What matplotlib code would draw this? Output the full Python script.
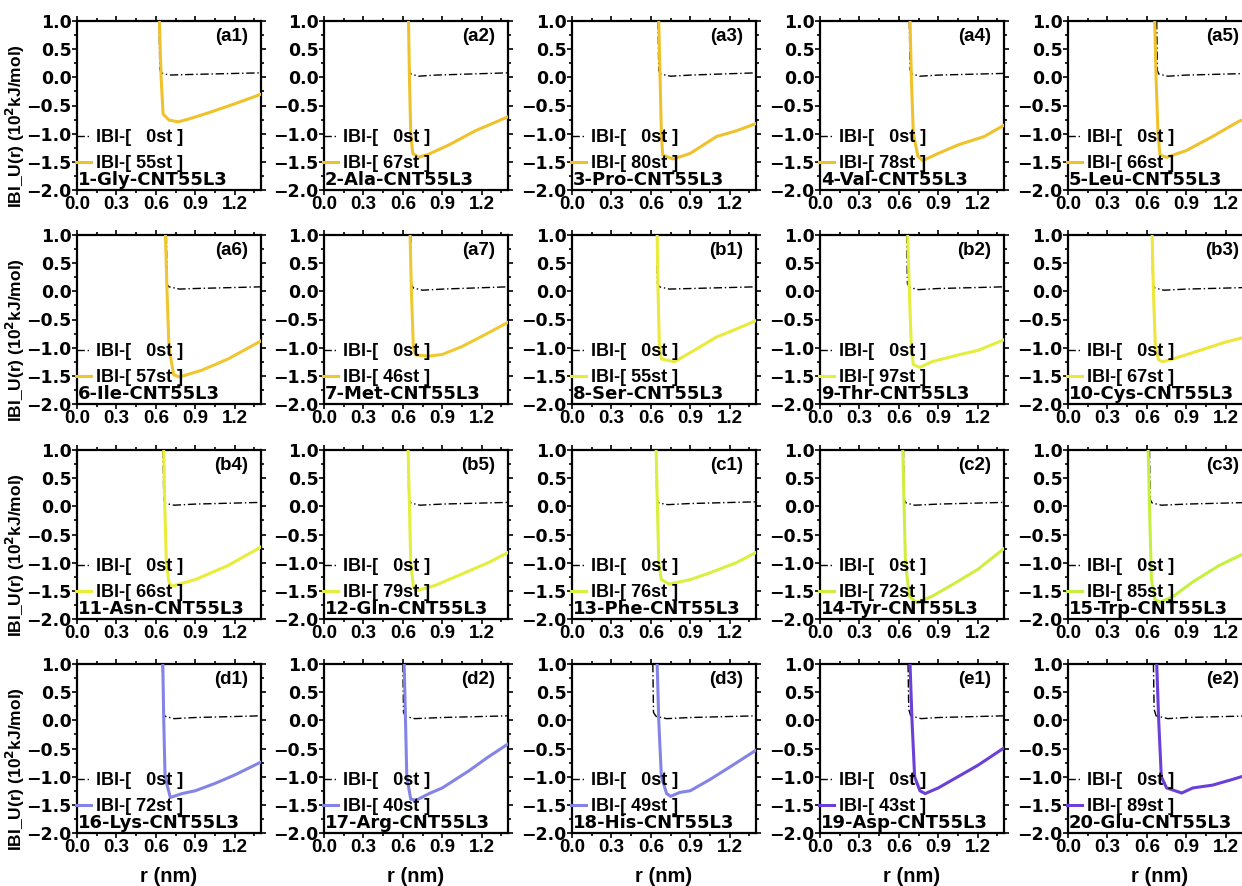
import matplotlib
matplotlib.use("Agg")
import matplotlib.pyplot as plt
from matplotlib.ticker import MultipleLocator

plt.rcParams["font.family"] = ["Liberation Sans", "DejaVu Sans"]
plt.rcParams["font.weight"] = "bold"

# ---- data, one entry per panel (row-major) ----
TAGS = ["(a1)", "(a2)", "(a3)", "(a4)", "(a5)",
        "(a6)", "(a7)", "(b1)", "(b2)", "(b3)",
        "(b4)", "(b5)", "(c1)", "(c2)", "(c3)",
        "(d1)", "(d2)", "(d3)", "(e1)", "(e2)"]
NAMES = ["1-Gly", "2-Ala", "3-Pro", "4-Val", "5-Leu",
         "6-Ile", "7-Met", "8-Ser", "9-Thr", "10-Cys",
         "11-Asn", "12-Gln", "13-Phe", "14-Tyr", "15-Trp",
         "16-Lys", "17-Arg", "18-His", "19-Asp", "20-Glu"]
STEPS = [55, 67, 80, 78, 66,
         57, 46, 55, 97, 67,
         66, 79, 76, 72, 85,
         72, 40, 49, 43, 89]
COLORS = ["#EFC22C", "#EFC22C", "#EFC22C", "#EFC22C", "#EFC22C",
          "#EFC530", "#EFC930", "#EAEA3A", "#E4EE3C", "#EEE63A",
          "#EAEC3A", "#E4EE3C", "#D9F040", "#D0EE40", "#C6F040",
          "#8484E6", "#8484E6", "#8484E6", "#6A40D8", "#6A40D8"]

# converged IBI potential (colored line)
CURVE_X = [
    [0.627, 0.64, 0.655, 0.70, 0.77, 0.85, 1.0, 1.2, 1.4],
    [0.643, 0.65, 0.66, 0.675, 0.72, 0.80, 0.95, 1.15, 1.4],
    [0.66, 0.67, 0.68, 0.69, 0.77, 0.90, 1.0, 1.1, 1.25, 1.4],
    [0.685, 0.695, 0.71, 0.745, 0.78, 0.90, 1.05, 1.25, 1.4],
    [0.66, 0.67, 0.685, 0.70, 0.75, 0.90, 1.1, 1.3, 1.4],
    [0.673, 0.685, 0.70, 0.735, 0.78, 0.95, 1.15, 1.4],
    [0.655, 0.665, 0.68, 0.70, 0.80, 0.90, 1.05, 1.2, 1.4],
    [0.648, 0.655, 0.665, 0.68, 0.78, 0.95, 1.1, 1.25, 1.4],
    [0.667, 0.68, 0.695, 0.71, 0.76, 0.85, 1.05, 1.2, 1.4],
    [0.64, 0.65, 0.665, 0.69, 0.72, 0.80, 1.0, 1.2, 1.4],
    [0.66, 0.668, 0.68, 0.70, 0.72, 0.90, 1.15, 1.4],
    [0.64, 0.65, 0.66, 0.68, 0.70, 0.85, 1.05, 1.25, 1.4],
    [0.64, 0.65, 0.66, 0.68, 0.74, 0.90, 1.05, 1.25, 1.4],
    [0.63, 0.64, 0.65, 0.68, 0.735, 0.85, 1.0, 1.2, 1.4],
    [0.61, 0.62, 0.635, 0.66, 0.70, 0.80, 0.95, 1.15, 1.32, 1.4],
    [0.653, 0.66, 0.67, 0.71, 0.80, 0.90, 1.05, 1.2, 1.4],
    [0.61, 0.62, 0.63, 0.66, 0.70, 0.80, 0.90, 1.1, 1.25, 1.4],
    [0.648, 0.66, 0.68, 0.72, 0.75, 0.82, 0.90, 1.05, 1.2, 1.4],
    [0.685, 0.70, 0.72, 0.76, 0.80, 0.90, 1.05, 1.2, 1.4],
    [0.675, 0.69, 0.71, 0.75, 0.865, 0.95, 1.1, 1.25, 1.32, 1.4],
]
CURVE_Y = [
    [1.0, 0.0, -0.65, -0.76, -0.79, -0.74, -0.63, -0.47, -0.30],
    [1.0, 0.0, -1.0, -1.35, -1.42, -1.36, -1.20, -0.95, -0.70],
    [1.0, 0.0, -1.0, -1.38, -1.45, -1.35, -1.20, -1.05, -0.95, -0.82],
    [1.0, 0.0, -1.0, -1.40, -1.48, -1.35, -1.20, -1.05, -0.85],
    [1.0, 0.0, -1.0, -1.38, -1.42, -1.30, -1.05, -0.78, -0.70],
    [1.0, 0.0, -1.0, -1.48, -1.52, -1.40, -1.20, -0.88],
    [1.0, 0.0, -1.0, -1.13, -1.15, -1.12, -0.98, -0.80, -0.55],
    [1.0, 0.0, -1.0, -1.20, -1.25, -1.02, -0.81, -0.67, -0.52],
    [1.0, 0.0, -1.0, -1.30, -1.35, -1.25, -1.13, -1.05, -0.86],
    [1.0, 0.0, -1.0, -1.22, -1.25, -1.20, -1.05, -0.90, -0.78],
    [1.0, 0.0, -1.0, -1.35, -1.42, -1.30, -1.05, -0.72],
    [1.0, 0.0, -1.0, -1.42, -1.50, -1.40, -1.20, -1.00, -0.82],
    [1.0, 0.0, -1.0, -1.30, -1.38, -1.30, -1.18, -1.00, -0.82],
    [1.0, 0.0, -1.0, -1.60, -1.71, -1.60, -1.40, -1.12, -0.75],
    [1.0, 0.0, -1.30, -1.65, -1.70, -1.60, -1.34, -1.05, -0.86, -0.78],
    [1.0, 0.0, -1.0, -1.37, -1.30, -1.25, -1.12, -0.97, -0.74],
    [1.0, 0.0, -1.0, -1.40, -1.42, -1.30, -1.20, -0.90, -0.65, -0.42],
    [1.0, 0.0, -1.0, -1.30, -1.35, -1.28, -1.25, -1.05, -0.83, -0.53],
    [1.0, 0.0, -1.0, -1.25, -1.30, -1.20, -1.00, -0.80, -0.49],
    [1.0, 0.0, -1.0, -1.20, -1.29, -1.20, -1.15, -1.05, -1.00, -0.97],
]

# initial (0st) potential, black dash-dot
REF_X = [
    [0.625, 0.63, 0.64, 0.70, 0.85, 1.4],
    [0.645, 0.65, 0.66, 0.72, 0.85, 1.4],
    [0.655, 0.66, 0.675, 0.75, 0.90, 1.4],
    [0.68, 0.685, 0.70, 0.76, 0.90, 1.4],
    [0.675, 0.68, 0.69, 0.76, 0.90, 1.4],
    [0.68, 0.685, 0.70, 0.78, 0.90, 1.4],
    [0.66, 0.665, 0.68, 0.75, 0.90, 1.4],
    [0.645, 0.65, 0.665, 0.74, 0.90, 1.4],
    [0.66, 0.665, 0.68, 0.75, 0.90, 1.4],
    [0.64, 0.645, 0.66, 0.73, 0.90, 1.4],
    [0.655, 0.66, 0.675, 0.74, 0.90, 1.4],
    [0.64, 0.645, 0.66, 0.73, 0.90, 1.4],
    [0.64, 0.645, 0.66, 0.73, 0.90, 1.4],
    [0.635, 0.64, 0.655, 0.72, 0.90, 1.4],
    [0.62, 0.625, 0.64, 0.71, 0.90, 1.4],
    [0.65, 0.655, 0.67, 0.74, 0.90, 1.4],
    [0.60, 0.605, 0.62, 0.69, 0.90, 1.4],
    [0.615, 0.62, 0.64, 0.72, 0.90, 1.4],
    [0.67, 0.675, 0.69, 0.77, 0.90, 1.4],
    [0.65, 0.655, 0.67, 0.76, 0.90, 1.4],
]
REF_Y = [
    [1.0, 0.15, 0.08, 0.04, 0.05, 0.08],
    [1.0, 0.12, 0.06, 0.02, 0.04, 0.08],
    [1.0, 0.12, 0.06, 0.02, 0.04, 0.08],
    [1.0, 0.14, 0.06, 0.02, 0.04, 0.07],
    [1.0, 0.12, 0.06, 0.02, 0.04, 0.07],
    [1.0, 0.12, 0.08, 0.04, 0.05, 0.08],
    [1.0, 0.12, 0.06, 0.02, 0.04, 0.08],
    [1.0, 0.14, 0.08, 0.04, 0.05, 0.08],
    [1.0, 0.14, 0.07, 0.03, 0.05, 0.08],
    [1.0, 0.12, 0.06, 0.02, 0.04, 0.07],
    [1.0, 0.12, 0.05, 0.02, 0.04, 0.07],
    [1.0, 0.12, 0.06, 0.02, 0.04, 0.07],
    [1.0, 0.12, 0.06, 0.03, 0.05, 0.08],
    [1.0, 0.12, 0.06, 0.02, 0.04, 0.07],
    [1.0, 0.12, 0.06, 0.02, 0.04, 0.07],
    [1.0, 0.16, 0.07, 0.03, 0.05, 0.08],
    [1.0, 0.14, 0.07, 0.03, 0.05, 0.08],
    [1.0, 0.14, 0.07, 0.03, 0.05, 0.08],
    [1.0, 0.20, 0.08, 0.03, 0.05, 0.08],
    [1.0, 0.20, 0.08, 0.03, 0.05, 0.08],
]

W, H = 1242, 886
COL_LEFT = [77, 324, 572, 820, 1068]
ROW_TOP = [21, 235, 450, 664]
AX_W, AX_H = 184, 169
WIDE = ["DejaVu Sans"]

fig = plt.figure(figsize=(W / 100, H / 100), dpi=100)

for i in range(20):
    r, c = divmod(i, 5)
    ax = fig.add_axes([COL_LEFT[c] / W, 1 - (ROW_TOP[r] + AX_H) / H, AX_W / W, AX_H / H])
    ax.plot(REF_X[i], REF_Y[i], color="k", lw=1.0, ls=(0, (6, 2, 1, 2)),
            label="IBI-[   0st ]", zorder=2)
    ax.plot(CURVE_X[i], CURVE_Y[i], color=COLORS[i], lw=2.2,
            label=f"IBI-[ {STEPS[i]}st ]", zorder=3)
    ax.set_xlim(0, 1.4)
    ax.set_ylim(-2.0, 1.0)
    ax.set_xticks([0.0, 0.3, 0.6, 0.9, 1.2])
    ax.set_yticks([-2.0, -1.5, -1.0, -0.5, 0.0, 0.5, 1.0])
    ax.xaxis.set_minor_locator(MultipleLocator(0.15))
    ax.yaxis.set_minor_locator(MultipleLocator(0.25))
    ax.tick_params(which="both", direction="out", top=True, right=True,
                   pad=0.5, width=1.2)
    ax.tick_params(which="major", length=3.5)
    ax.tick_params(which="minor", length=2)
    for lab in ax.get_xticklabels():
        lab.set_fontweight("bold")
        lab.set_fontsize(13.5)
    for lab in ax.get_yticklabels():
        lab.set_fontweight("bold")
        lab.set_fontfamily(WIDE)
        lab.set_fontsize(12.5)
    for s in ax.spines.values():
        s.set_linewidth(1.6)

    ax.legend(loc="lower left", bbox_to_anchor=(-0.005, 0.105),
              frameon=False, handlelength=0.8, handletextpad=0.3,
              labelspacing=0.5, borderaxespad=0, borderpad=0,
              prop={"size": 13, "weight": "bold"})
    ax.text(0.005, 0.005, f"{NAMES[i]}-CNT55L3", transform=ax.transAxes,
            ha="left", va="bottom", fontsize=13, fontweight="bold",
            family=WIDE)
    ax.text(0.93, 0.96, TAGS[i], transform=ax.transAxes,
            ha="right", va="top", fontsize=13.5, fontweight="bold")

    if c == 0:
        ax.set_ylabel("IBI_U(r) (10$^2$kJ/mol)", fontsize=12.5, fontweight="bold")
        ax.yaxis.set_label_coords(-0.27, 0.38)
    if r == 3:
        ax.set_xlabel("r (nm)", fontsize=14.5, fontweight="bold", labelpad=8)

fig.savefig("out.png", dpi=100)
